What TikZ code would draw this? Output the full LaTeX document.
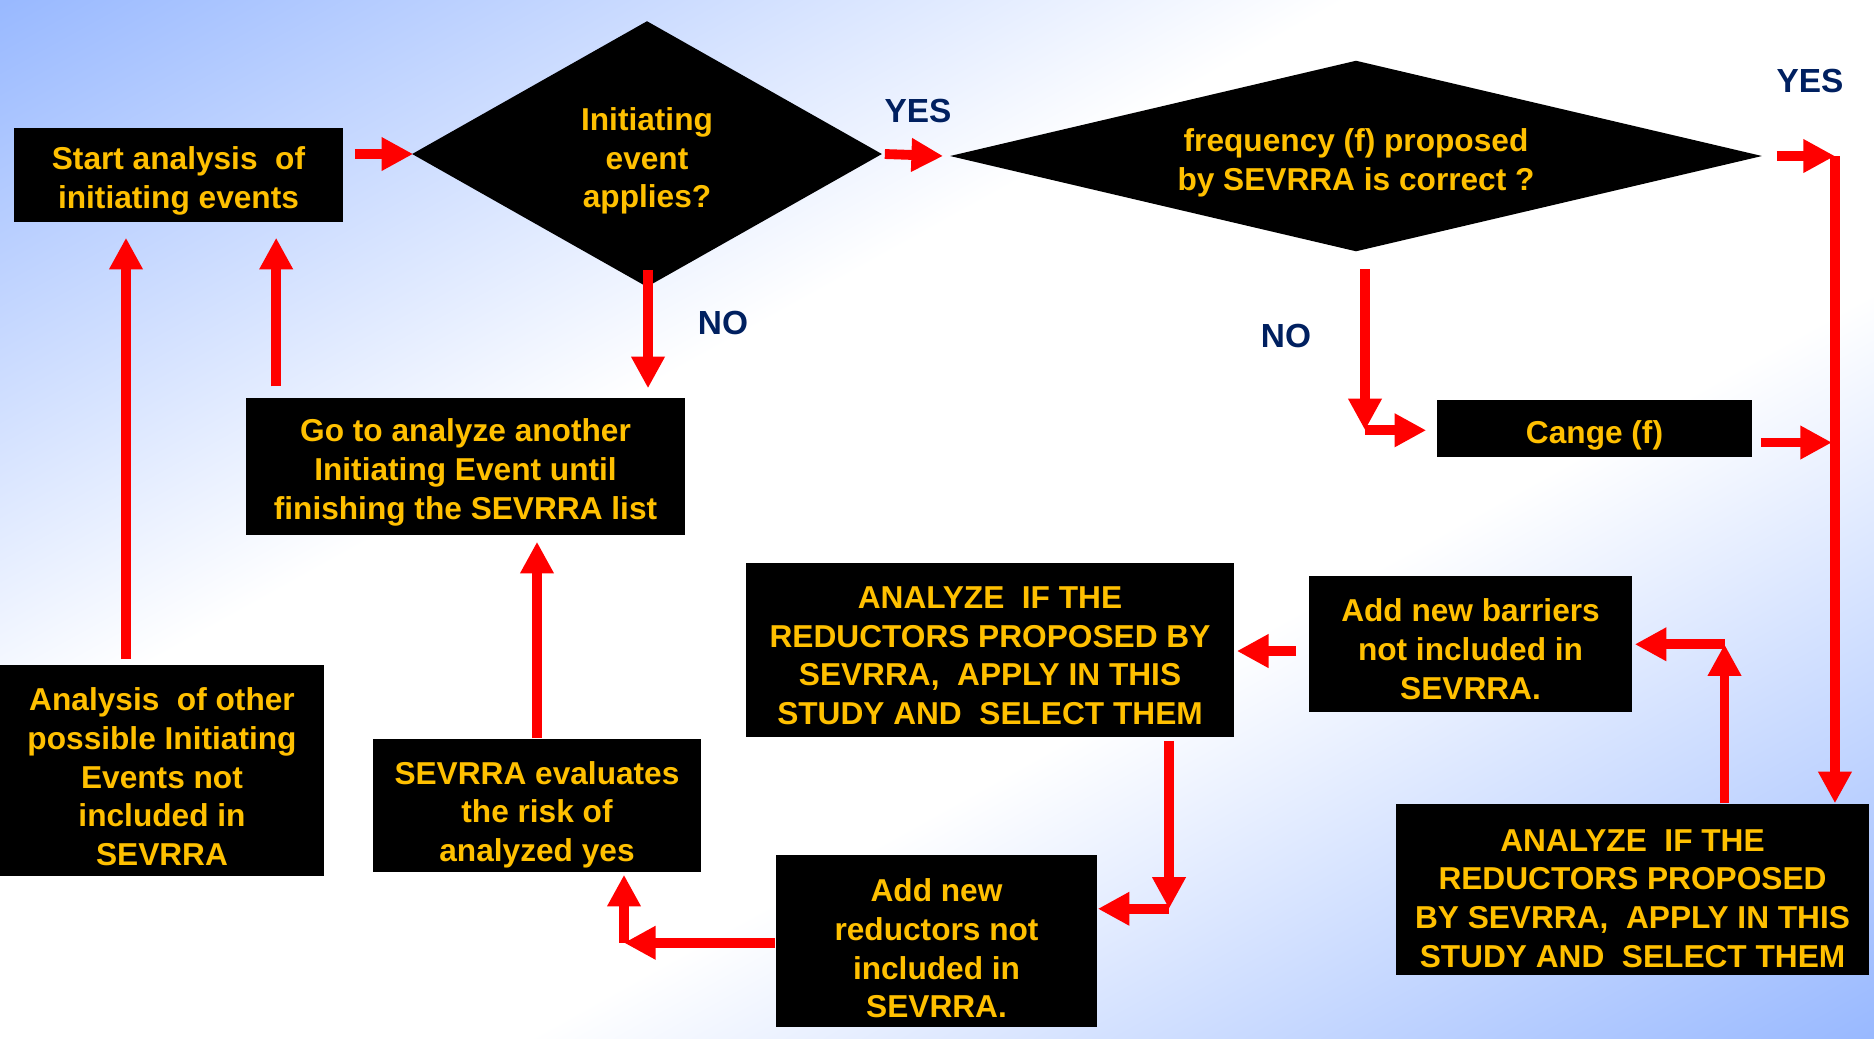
\documentclass[tikz,border=0pt]{standalone}
\usepackage{fontspec}
\setmainfont{Liberation Sans}
\usetikzlibrary{shapes.geometric,arrows.meta,calc}

\definecolor{bgblue}{RGB}{153,185,255}
\definecolor{boxtext}{RGB}{255,192,0}
\definecolor{labelblue}{RGB}{0,32,96}
\definecolor{arrred}{RGB}{255,0,0}
\pgfdeclareverticalshading{bgfade}{100bp}{color(0bp)=(bgblue); color(14.6bp)=(bgblue);
  color(40bp)=(white); color(60bp)=(white); color(85.4bp)=(bgblue); color(100bp)=(bgblue)}

\begin{document}
\begin{tikzpicture}[x=0.01cm,y=-0.01cm,
  box/.style={rectangle,fill=black,text=boxtext,align=center,inner sep=0pt,
    font=\bfseries\fontsize{9}{11}\selectfont,text depth=0pt},
  dec/.style={diamond,fill=black,text=boxtext,align=center,inner sep=0pt,
    font=\bfseries\fontsize{9}{11}\selectfont,text depth=0pt},
  lab/.style={text=labelblue,font=\bfseries\fontsize{9.5}{11}\selectfont},
  arr/.style={draw=arrred,line width=2.8pt,-{Triangle[length=9pt,width=9pt]}}]
\useasboundingbox (0,0) rectangle (1874,1038);
\begin{scope}[transform canvas={xscale=1.8054}]
  \shade[shading=bgfade,shading angle=45] (0,0) rectangle (1038,1038);
\end{scope}

% decisions
\node[dec,aspect=1.8,minimum width=4.7cm,minimum height=2.66cm,text height=30.6pt] (d1)
  at (647,154) {Initiating\\event\\applies?};
\node[dec,aspect=4.2,minimum width=8.12cm,minimum height=1.91cm,text height=19.4pt] (d2)
  at (1356,156) {frequency (f) proposed\\by SEVRRA is correct ?};

% boxes
\node[box,minimum width=3.29cm,minimum height=0.94cm,text height=18.8pt] (start)
  at (178.5,175) {Start analysis\ \ of\\initiating events};
\node[box,minimum width=4.39cm,minimum height=1.37cm,text height=29.9pt] (go)
  at (465.5,466.5) {Go to analyze another\\Initiating Event until\\finishing the SEVRRA list};
\node[box,minimum width=3.24cm,minimum height=2.11cm,text height=54pt] (ana)
  at (162,770.5) {Analysis\ \ of other\\possible Initiating\\Events not\\included in\\SEVRRA};
\node[box,minimum width=3.28cm,minimum height=1.33cm,text height=31.9pt] (sev)
  at (537,805.5) {SEVRRA evaluates\\the risk of\\analyzed yes};
\node[box,minimum width=3.21cm,minimum height=1.72cm,text height=43.7pt] (red)
  at (936.5,941) {Add new\\reductors not\\included in\\SEVRRA.};
\node[box,minimum width=4.88cm,minimum height=1.74cm,text height=42.3pt] (m)
  at (990,650) {ANALYZE\ \ IF THE\\REDUCTORS PROPOSED BY\\SEVRRA,\ \ APPLY IN THIS\\STUDY AND\ \ SELECT THEM};
\node[box,minimum width=3.23cm,minimum height=1.36cm,text height=31.3pt] (bar)
  at (1470.5,644) {Add new barriers\\not included in\\SEVRRA.};
\node[box,minimum width=4.73cm,minimum height=1.71cm,text height=44.2pt] (a2)
  at (1632.5,889.5) {ANALYZE\ \ IF THE\\REDUCTORS PROPOSED\\BY SEVRRA,\ \ APPLY IN THIS\\STUDY AND\ \ SELECT THEM};
\node[box,minimum width=3.15cm,minimum height=0.57cm,text height=8.8pt] (cange)
  at (1594.5,428.5) {Cange (f)};

% labels
\node[lab] (yes1) at (918,111) {YES};
\node[lab] (yes2) at (1810,81) {YES};
\node[lab] (no1) at (723,323) {NO};
\node[lab] (no2) at (1286,336) {NO};

% bend points
\coordinate (rc) at ($(d2.east)+(72,0)$);
\coordinate (k1) at ($(sev.south)+(87,70)$);
\coordinate (k2) at ($(m.south)+(179,171)$);
\coordinate (k3) at ($(a2.north)+(92,-159)$);
\coordinate (k4) at ($(d2.south)+(9,178)$);

% arrows
\draw[arr] ($(start.east |- d1.west)+(11,0)$) -- ($(d1.west)+(2,0)$);
\draw[arr] ($(d1.east)+(2,0)$) -- ($(d2.west)+(-6,0)$);
\draw[arr] ($(d2.east)+(14,0)$) -- (rc);
\draw[arr] (rc) -- (rc |- a2.north);
\draw[arr] ($(d1.south)+(1,-18)$) -- ($(go.north -| d1.south)+(1,-9)$);
\draw[arr] ($(go.north west)+(31,-11)$) -- ($(start.south -| go.north west)+(31,15)$);
\draw[arr] ($(ana.north)+(-36,-5)$) -- ($(start.south -| ana.north)+(-36,15)$);
\draw[arr] (sev.north) -- ($(go.south -| sev.north)+(0,6)$);
\draw[arr] (red.west |- k1) -- (k1);
\draw[arr] (k1) -- ($(sev.south -| k1)+(0,2)$);
\draw[arr] ($(m.south)+(179,3)$) -- (k2);
\draw[arr] (k2) -- (red.east |- k2);
\draw[arr] ($(bar.west)+(-12,7)$) -- ($(m.east |- bar.west)+(2,7)$);
\draw[arr] (a2.north -| k3) -- (k3);
\draw[arr] (k3) -- ($(bar.east |- k3)+(2,0)$);
\draw[arr] ($(d2.south)+(9,17)$) -- (k4);
\draw[arr] (k4) -- ($(cange.west |- k4)+(-10,0)$);
\draw[arr] ($(cange.east)+(8,14)$) -- ($(rc |- cange.east)+(-3,14)$);
\end{tikzpicture}
\end{document}
